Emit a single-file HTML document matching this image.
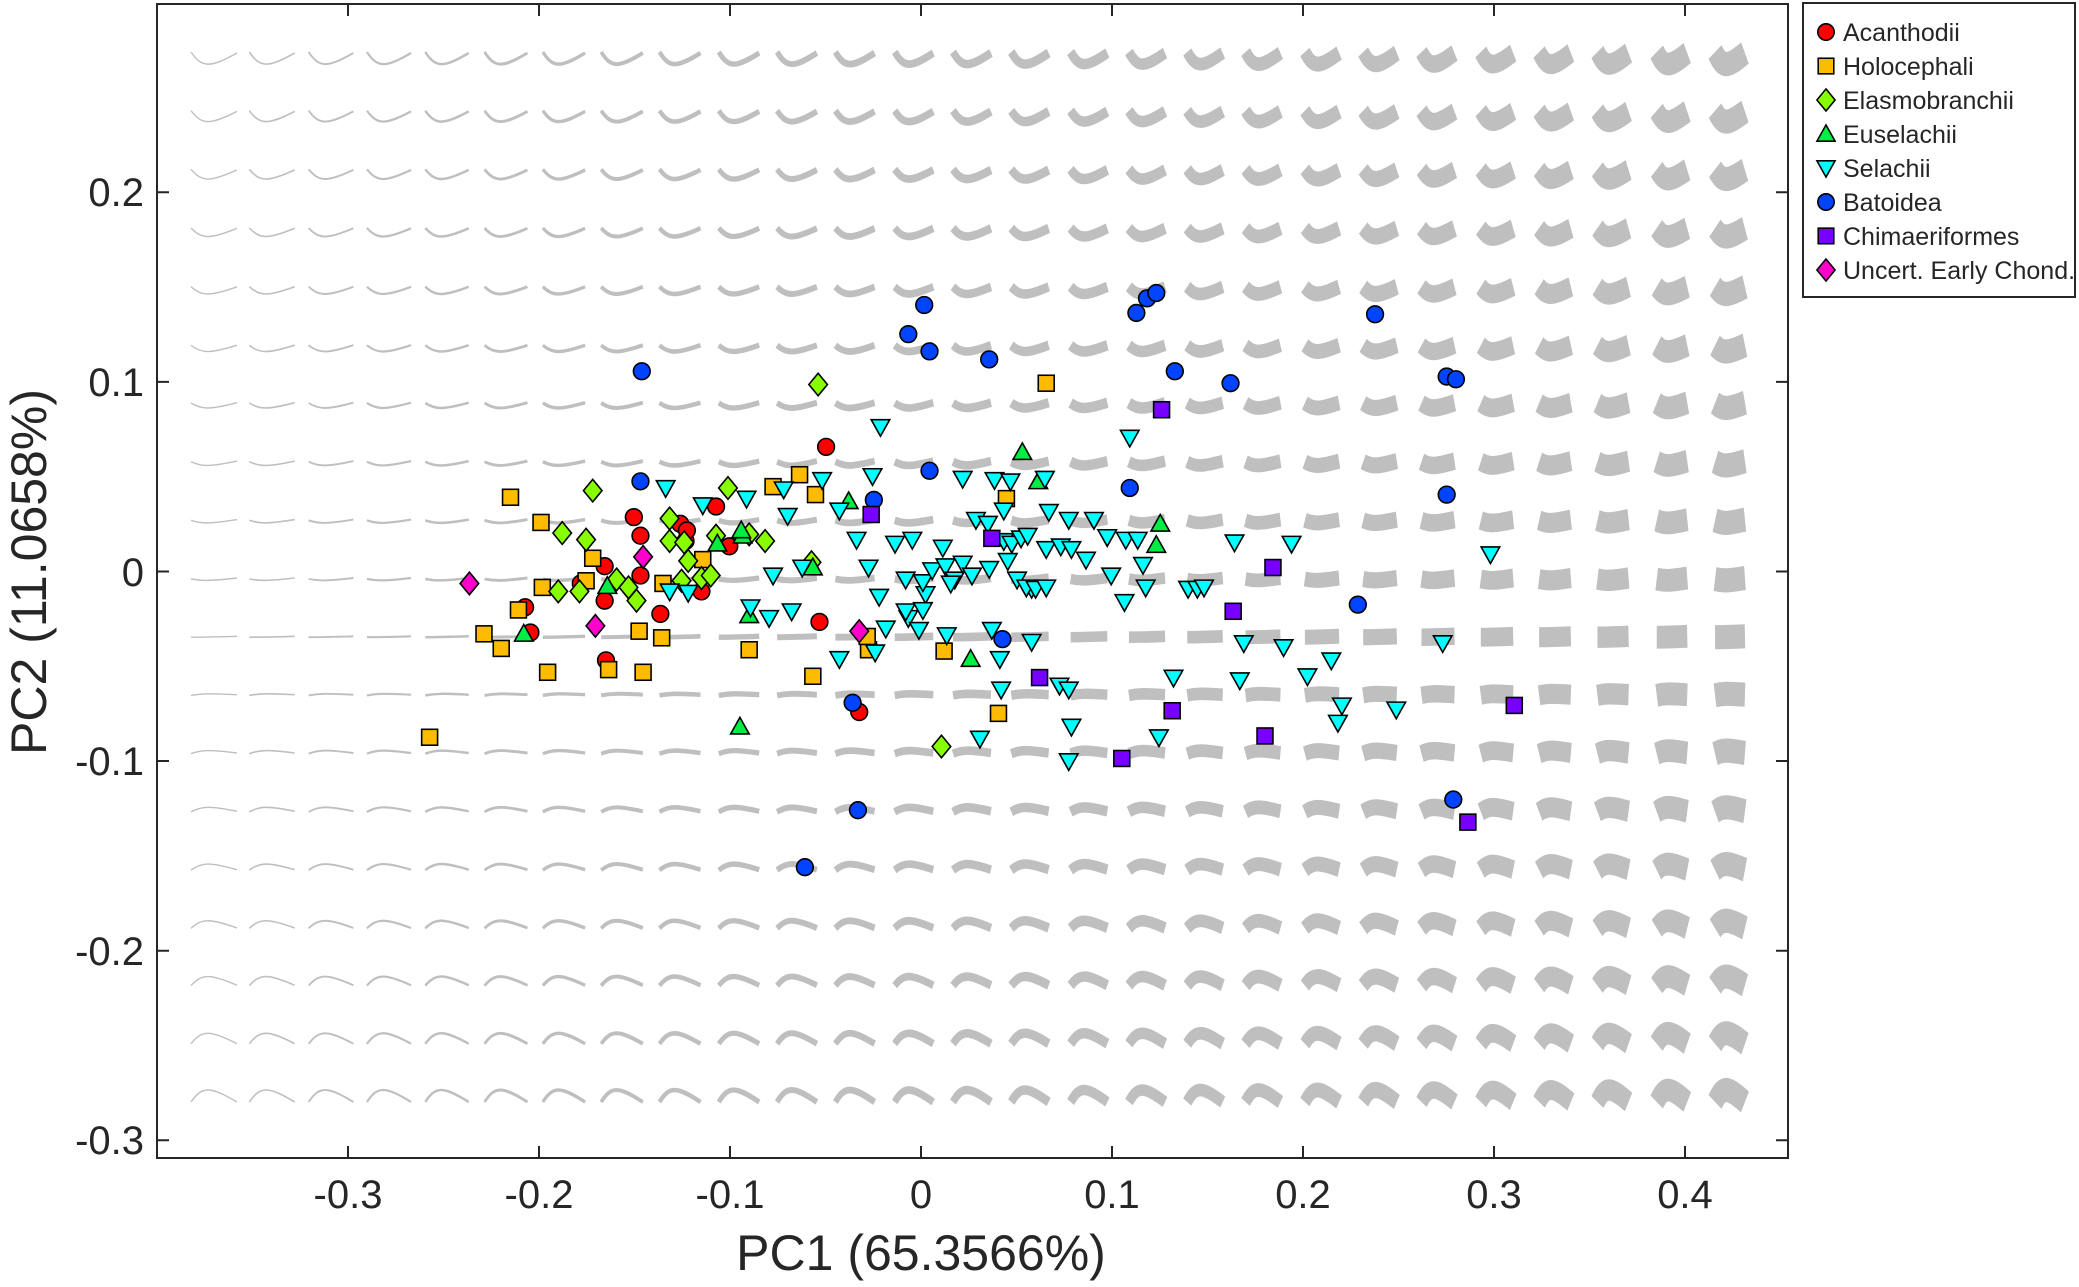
<!DOCTYPE html>
<html><head><meta charset="utf-8"><style>
html,body{margin:0;padding:0;background:#fff;}
svg{display:block;}
text{font-family:"Liberation Sans",sans-serif;fill:#262626;}
</style></head><body>
<svg width="2079" height="1287" viewBox="0 0 2079 1287" xmlns="http://www.w3.org/2000/svg" xmlns:xlink="http://www.w3.org/1999/xlink">
<defs>
<path id="a0" d="M-23,-6 C-12,10 -4,10 23,-5"/>
<path id="a1" d="M-23,-5.3 C-12,9.1 -4,9.1 23,-4.6"/>
<path id="a2" d="M-23,-4.7 C-12,8.2 -4,8.2 23,-4.1"/>
<path id="a3" d="M-23,-4 C-12,7.3 -4,7.3 23,-3.7"/>
<path id="a4" d="M-23,-3.3 C-12,6.4 -4,6.4 23,-3.2"/>
<path id="a5" d="M-23,-2.7 C-12,5.6 -4,5.6 23,-2.8"/>
<path id="a6" d="M-23,-2 C-12,4.7 -4,4.7 23,-2.3"/>
<path id="a7" d="M-23,-1.3 C-12,3.8 -4,3.8 23,-1.9"/>
<path id="a8" d="M-23,-0.7 C-12,2.9 -4,2.9 23,-1.4"/>
<path id="a9" d="M-23,0 C-12,2 -4,2 23,-1"/>
<path id="a10" d="M-23,0.2 C-12,0.2 -4,0.2 23,-0.7"/>
<path id="a11" d="M-23,0.4 C-12,-1.6 -4,-1.6 23,-0.3"/>
<path id="a12" d="M-23,0.7 C-12,-3.3 -4,-3.3 23,0"/>
<path id="a13" d="M-23,0.9 C-12,-5.1 -4,-5.1 23,0.3"/>
<path id="a14" d="M-23,1.1 C-12,-6.9 -4,-6.9 23,0.7"/>
<path id="a15" d="M-23,1.3 C-12,-8.7 -4,-8.7 23,1"/>
<path id="a16" d="M-23,1.6 C-12,-10.4 -4,-10.4 23,1.3"/>
<path id="a17" d="M-23,1.8 C-12,-12.2 -4,-12.2 23,1.7"/>
<path id="a18" d="M-23,2 C-12,-14 -4,-14 23,2"/>
<g id="col">
<use href="#a0" y="58"/><use href="#a1" y="116"/><use href="#a2" y="174"/><use href="#a3" y="232"/><use href="#a4" y="290"/><use href="#a5" y="348"/><use href="#a6" y="405"/><use href="#a7" y="463"/><use href="#a8" y="521"/><use href="#a9" y="579"/><use href="#a10" y="637"/><use href="#a11" y="695"/><use href="#a12" y="753"/><use href="#a13" y="811"/><use href="#a14" y="869"/><use href="#a15" y="927"/><use href="#a16" y="984"/><use href="#a17" y="1042"/><use href="#a18" y="1100"/>
</g>
<circle id="mo" r="6.3"/>
<rect id="ms" x="-6" y="-6" width="12" height="12"/>
<polygon id="md" points="0,-8.5 7,0 0,8.5 -7,0"/>
<polygon id="mu" points="0,-7 7,5.5 -7,5.5"/>
<polygon id="mv" points="0,7 7,-5.5 -7,-5.5"/>
</defs>
<rect width="2079" height="1287" fill="#fff"/>
<g fill="none" stroke="#bfbfbf" stroke-linecap="butt" stroke-linejoin="round">
<g transform="translate(214,0)" stroke-width="1.4"><use href="#col"/></g>
<g transform="translate(272,0) scale(0.987,1)" stroke-width="1.6"><use href="#col"/></g>
<g transform="translate(331,0) scale(0.973,1)" stroke-width="1.9"><use href="#col"/></g>
<g transform="translate(389,0) scale(0.96,1)" stroke-width="2.2"><use href="#col"/></g>
<g transform="translate(447,0) scale(0.946,1)" stroke-width="2.5"><use href="#col"/></g>
<g transform="translate(506,0) scale(0.933,1)" stroke-width="2.9"><use href="#col"/></g>
<g transform="translate(564,0) scale(0.919,1)" stroke-width="3.4"><use href="#col"/></g>
<g transform="translate(622,0) scale(0.906,1)" stroke-width="4"><use href="#col"/></g>
<g transform="translate(680,0) scale(0.892,1)" stroke-width="4.6"><use href="#col"/></g>
<g transform="translate(739,0) scale(0.879,1)" stroke-width="5.3"><use href="#col"/></g>
<g transform="translate(797,0) scale(0.865,1)" stroke-width="6"><use href="#col"/></g>
<g transform="translate(855,0) scale(0.852,1)" stroke-width="6.8"><use href="#col"/></g>
<g transform="translate(914,0) scale(0.838,1)" stroke-width="7.7"><use href="#col"/></g>
<g transform="translate(972,0) scale(0.825,1)" stroke-width="8.6"><use href="#col"/></g>
<g transform="translate(1030,0) scale(0.812,1)" stroke-width="9.5"><use href="#col"/></g>
<g transform="translate(1089,0) scale(0.798,1)" stroke-width="10.5"><use href="#col"/></g>
<g transform="translate(1147,0) scale(0.785,1)" stroke-width="11.6"><use href="#col"/></g>
<g transform="translate(1205,0) scale(0.771,1)" stroke-width="12.7"><use href="#col"/></g>
<g transform="translate(1263,0) scale(0.758,1)" stroke-width="13.8"><use href="#col"/></g>
<g transform="translate(1322,0) scale(0.744,1)" stroke-width="15"><use href="#col"/></g>
<g transform="translate(1380,0) scale(0.731,1)" stroke-width="16.2"><use href="#col"/></g>
<g transform="translate(1438,0) scale(0.717,1)" stroke-width="17.5"><use href="#col"/></g>
<g transform="translate(1497,0) scale(0.704,1)" stroke-width="18.8"><use href="#col"/></g>
<g transform="translate(1555,0) scale(0.69,1)" stroke-width="20.1"><use href="#col"/></g>
<g transform="translate(1613,0) scale(0.677,1)" stroke-width="21.4"><use href="#col"/></g>
<g transform="translate(1672,0) scale(0.663,1)" stroke-width="22.8"><use href="#col"/></g>
<g transform="translate(1730,0) scale(0.65,1)" stroke-width="24.2"><use href="#col"/></g>
</g>
<g transform="scale(1.326)" stroke="#000" stroke-width="1.2">
<g fill="#ff0000">
<use href="#mo" x="478" y="390"/><use href="#mo" x="483" y="404"/><use href="#mo" x="513" y="395"/><use href="#mo" x="540" y="382"/><use href="#mo" x="517" y="408"/><use href="#mo" x="456" y="427"/><use href="#mo" x="438" y="440"/><use href="#mo" x="456" y="453"/><use href="#mo" x="498" y="463"/><use href="#mo" x="396" y="458"/><use href="#mo" x="400" y="477"/><use href="#mo" x="457" y="498"/><use href="#mo" x="618" y="469"/><use href="#mo" x="623" y="337"/><use href="#mo" x="648" y="537"/><use href="#mo" x="550" y="412"/><use href="#mo" x="529" y="446"/><use href="#mo" x="483" y="434"/><use href="#mo" x="518" y="400"/>
</g>
<g fill="#ffbb00">
<use href="#ms" x="385" y="375"/><use href="#ms" x="408" y="394"/><use href="#ms" x="447" y="421"/><use href="#ms" x="409" y="443"/><use href="#ms" x="391" y="460"/><use href="#ms" x="365" y="478"/><use href="#ms" x="378" y="489"/><use href="#ms" x="442" y="438"/><use href="#ms" x="413" y="507"/><use href="#ms" x="459" y="505"/><use href="#ms" x="485" y="507"/><use href="#ms" x="482" y="476"/><use href="#ms" x="499" y="481"/><use href="#ms" x="324" y="556"/><use href="#ms" x="530" y="422"/><use href="#ms" x="583" y="367"/><use href="#ms" x="603" y="358"/><use href="#ms" x="615" y="373"/><use href="#ms" x="565" y="490"/><use href="#ms" x="613" y="510"/><use href="#ms" x="655" y="490"/><use href="#ms" x="654" y="480"/><use href="#ms" x="712" y="491"/><use href="#ms" x="753" y="538"/><use href="#ms" x="759" y="376"/><use href="#ms" x="789" y="289"/><use href="#ms" x="500" y="440"/>
</g>
<g fill="#88ff00">
<use href="#md" x="617" y="290"/><use href="#md" x="447" y="370"/><use href="#md" x="549" y="368"/><use href="#md" x="577" y="408"/><use href="#md" x="424" y="402"/><use href="#md" x="442" y="407"/><use href="#md" x="437" y="446"/><use href="#md" x="465" y="437"/><use href="#md" x="474" y="443"/><use href="#md" x="480" y="453"/><use href="#md" x="505" y="391"/><use href="#md" x="505" y="408"/><use href="#md" x="516" y="409"/><use href="#md" x="519" y="423"/><use href="#md" x="529" y="436"/><use href="#md" x="536" y="434"/><use href="#md" x="540" y="404"/><use href="#md" x="514" y="438"/><use href="#md" x="421" y="446"/><use href="#md" x="710" y="563"/><use href="#md" x="612" y="424"/><use href="#md" x="565" y="403"/>
</g>
<g fill="#00ee44">
<use href="#mu" x="558" y="548"/><use href="#mu" x="565" y="464"/><use href="#mu" x="541" y="410"/><use href="#mu" x="560" y="404"/><use href="#mu" x="640" y="378"/><use href="#mu" x="771" y="341"/><use href="#mu" x="783" y="363"/><use href="#mu" x="875" y="395"/><use href="#mu" x="872" y="411"/><use href="#mu" x="732" y="497"/><use href="#mu" x="613" y="428"/><use href="#mu" x="458" y="442"/><use href="#mu" x="395" y="478"/><use href="#mu" x="559" y="400"/>
</g>
<g fill="#00ffff">
<use href="#mv" x="664" y="322"/><use href="#mv" x="658" y="359"/><use href="#mv" x="620" y="362"/><use href="#mv" x="591" y="369"/><use href="#mv" x="563" y="376"/><use href="#mv" x="502" y="368"/><use href="#mv" x="530" y="381"/><use href="#mv" x="594" y="389"/><use href="#mv" x="633" y="385"/><use href="#mv" x="646" y="407"/><use href="#mv" x="655" y="428"/><use href="#mv" x="605" y="428"/><use href="#mv" x="583" y="434"/><use href="#mv" x="597" y="461"/><use href="#mv" x="580" y="466"/><use href="#mv" x="566" y="458"/><use href="#mv" x="519" y="447"/><use href="#mv" x="505" y="446"/><use href="#mv" x="633" y="497"/><use href="#mv" x="660" y="492"/><use href="#mv" x="663" y="450"/><use href="#mv" x="685" y="466"/><use href="#mv" x="693" y="475"/><use href="#mv" x="714" y="479"/><use href="#mv" x="698" y="448"/><use href="#mv" x="683" y="461"/><use href="#mv" x="688" y="407"/><use href="#mv" x="675" y="410"/><use href="#mv" x="683" y="437"/><use href="#mv" x="696" y="439"/><use href="#mv" x="703" y="430"/><use href="#mv" x="711" y="413"/><use href="#mv" x="713" y="427"/><use href="#mv" x="720" y="437"/><use href="#mv" x="726" y="425"/><use href="#mv" x="733" y="434"/><use href="#mv" x="726" y="361"/><use href="#mv" x="750" y="362"/><use href="#mv" x="736" y="392"/><use href="#mv" x="745" y="395"/><use href="#mv" x="757" y="385"/><use href="#mv" x="762" y="363"/><use href="#mv" x="788" y="361"/><use href="#mv" x="791" y="386"/><use href="#mv" x="806" y="392"/><use href="#mv" x="825" y="392"/><use href="#mv" x="757" y="408"/><use href="#mv" x="763" y="410"/><use href="#mv" x="770" y="406"/><use href="#mv" x="775" y="404"/><use href="#mv" x="778" y="444"/><use href="#mv" x="760" y="423"/><use href="#mv" x="746" y="429"/><use href="#mv" x="767" y="437"/><use href="#mv" x="774" y="443"/><use href="#mv" x="781" y="444"/><use href="#mv" x="789" y="443"/><use href="#mv" x="789" y="414"/><use href="#mv" x="800" y="412"/><use href="#mv" x="808" y="414"/><use href="#mv" x="819" y="422"/><use href="#mv" x="835" y="405"/><use href="#mv" x="849" y="407"/><use href="#mv" x="858" y="407"/><use href="#mv" x="862" y="426"/><use href="#mv" x="838" y="434"/><use href="#mv" x="848" y="454"/><use href="#mv" x="864" y="443"/><use href="#mv" x="852" y="330"/><use href="#mv" x="896" y="444"/><use href="#mv" x="903" y="444"/><use href="#mv" x="908" y="443"/><use href="#mv" x="931" y="409"/><use href="#mv" x="974" y="410"/><use href="#mv" x="938" y="485"/><use href="#mv" x="935" y="513"/><use href="#mv" x="968" y="488"/><use href="#mv" x="986" y="510"/><use href="#mv" x="1004" y="498"/><use href="#mv" x="1012" y="532"/><use href="#mv" x="1009" y="545"/><use href="#mv" x="1053" y="535"/><use href="#mv" x="1088" y="485"/><use href="#mv" x="1124" y="418"/><use href="#mv" x="748" y="475"/><use href="#mv" x="754" y="497"/><use href="#mv" x="755" y="520"/><use href="#mv" x="739" y="557"/><use href="#mv" x="778" y="484"/><use href="#mv" x="799" y="517"/><use href="#mv" x="806" y="520"/><use href="#mv" x="808" y="548"/><use href="#mv" x="806" y="574"/><use href="#mv" x="874" y="556"/><use href="#mv" x="885" y="511"/><use href="#mv" x="717" y="440"/><use href="#mv" x="668" y="474"/><use href="#mv" x="696" y="460"/>
</g>
<g fill="#0044ff">
<use href="#mo" x="484" y="280"/><use href="#mo" x="483" y="363"/><use href="#mo" x="659" y="377"/><use href="#mo" x="697" y="230"/><use href="#mo" x="685" y="252"/><use href="#mo" x="701" y="265"/><use href="#mo" x="746" y="271"/><use href="#mo" x="701" y="355"/><use href="#mo" x="865" y="225"/><use href="#mo" x="872" y="221"/><use href="#mo" x="857" y="236"/><use href="#mo" x="886" y="280"/><use href="#mo" x="928" y="289"/><use href="#mo" x="1037" y="237"/><use href="#mo" x="1091" y="284"/><use href="#mo" x="1098" y="286"/><use href="#mo" x="1091" y="373"/><use href="#mo" x="1024" y="456"/><use href="#mo" x="852" y="368"/><use href="#mo" x="756" y="482"/><use href="#mo" x="647" y="611"/><use href="#mo" x="607" y="654"/><use href="#mo" x="1096" y="603"/><use href="#mo" x="643" y="530"/>
</g>
<g fill="#7700ff">
<use href="#ms" x="657" y="388"/><use href="#ms" x="748" y="406"/><use href="#ms" x="876" y="309"/><use href="#ms" x="960" y="428"/><use href="#ms" x="930" y="461"/><use href="#ms" x="784" y="511"/><use href="#ms" x="884" y="536"/><use href="#ms" x="846" y="572"/><use href="#ms" x="954" y="555"/><use href="#ms" x="1142" y="532"/><use href="#ms" x="1107" y="620"/>
</g>
<g fill="#ff00cc">
<use href="#md" x="354" y="440"/><use href="#md" x="485" y="420"/><use href="#md" x="449" y="472"/><use href="#md" x="648" y="476"/>
</g>
</g>
<g stroke="#262626" stroke-width="2" fill="none">
<rect x="157" y="4" width="1631" height="1154"/>
<path d="M348,1158v-12M539,1158v-12M730,1158v-12M921,1158v-12M1112,1158v-12M1303,1158v-12M1494,1158v-12M1685,1158v-12
M348,4v12M539,4v12M730,4v12M921,4v12M1112,4v12M1303,4v12M1494,4v12M1685,4v12
M157,192.3h12M157,381.9h12M157,571.5h12M157,761h12M157,950.7h12M157,1140.3h12
M1788,192.3h-12M1788,381.9h-12M1788,571.5h-12M1788,761h-12M1788,950.7h-12M1788,1140.3h-12"/>
</g>
<g font-size="40" text-anchor="middle">
<text x="348" y="1208">-0.3</text><text x="539" y="1208">-0.2</text><text x="730" y="1208">-0.1</text><text x="921" y="1208">0</text><text x="1112" y="1208">0.1</text><text x="1303" y="1208">0.2</text><text x="1494" y="1208">0.3</text><text x="1685" y="1208">0.4</text>
</g>
<g font-size="40" text-anchor="end">
<text x="144" y="206">0.2</text><text x="144" y="396">0.1</text><text x="144" y="586">0</text><text x="144" y="775">-0.1</text><text x="144" y="965">-0.2</text><text x="144" y="1154">-0.3</text>
</g>
<text x="921" y="1270" font-size="50" text-anchor="middle">PC1 (65.3566%)</text>
<text transform="translate(46,572) rotate(-90)" font-size="50" text-anchor="middle">PC2 (11.0658%)</text>
<rect x="1803" y="3" width="272" height="294" fill="#fff" stroke="#262626" stroke-width="2"/>
<g transform="translate(1826,0) scale(1.3)" stroke="#000" stroke-width="1.2">
<use href="#mo" y="24.6" fill="#ff0000"/>
<use href="#ms" y="50.8" fill="#ffbb00"/>
<use href="#md" y="76.9" fill="#88ff00"/>
<use href="#mu" y="103.1" fill="#00ee44"/>
<use href="#mv" y="129.2" fill="#00ffff"/>
<use href="#mo" y="155.4" fill="#0044ff"/>
<use href="#ms" y="181.5" fill="#7700ff"/>
<use href="#md" y="207.7" fill="#ff00cc"/>
</g>
<g font-size="25">
<text x="1843" y="41" fill="#000">Acanthodii</text>
<text x="1843" y="75" fill="#000">Holocephali</text>
<text x="1843" y="109" fill="#000">Elasmobranchii</text>
<text x="1843" y="143" fill="#000">Euselachii</text>
<text x="1843" y="177" fill="#000">Selachii</text>
<text x="1843" y="211" fill="#000">Batoidea</text>
<text x="1843" y="245" fill="#000">Chimaeriformes</text>
<text x="1843" y="279" fill="#000">Uncert. Early Chond.</text>
</g>
</svg>
</body></html>
